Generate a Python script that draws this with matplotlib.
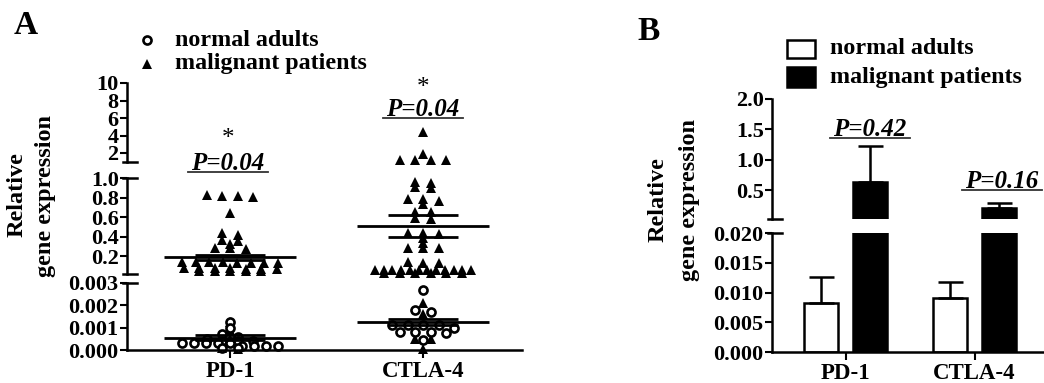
import numpy as np
import matplotlib
matplotlib.use("Agg")
import matplotlib.pyplot as plt
from matplotlib.lines import Line2D
from matplotlib.patches import Rectangle

plt.rcParams['font.family'] = ['Liberation Serif', 'DejaVu Serif']
plt.rcParams['font.weight'] = 'bold'
plt.rcParams['axes.linewidth'] = 1.8

# ---- datos ----
genes = ['PD-1', 'CTLA-4']

# panel A: expresion relativa de cada individuo
pd1_normal = [0.00125, 0.0010, 0.0007, 0.0006, 0.0005, 0.0004, 0.0004, 0.0004,
              0.0003, 0.0003, 0.0003, 0.0003, 0.0003, 0.0002, 0.0002, 0.0002,
              0.0002, 0.0001, 0.0001]
pd1_malignant = [0.83, 0.82, 0.82, 0.81, 0.64, 0.44, 0.42, 0.36, 0.35, 0.32,
                 0.28, 0.28, 0.27,
                 0.14, 0.14, 0.14, 0.14, 0.13, 0.13, 0.13, 0.13,
                 0.08, 0.08, 0.08, 0.08, 0.07, 0.07, 0.07,
                 0.045, 0.045, 0.045, 0.045, 0.045,
                 0.00125, 0.0009, 0.0005, 0.0003, 0.0002, 0.0001, 0.00005]
ctla4_normal = [0.0027, 0.0018, 0.0017, 0.0011, 0.0011, 0.0011, 0.0011, 0.0010,
                0.0008, 0.0008, 0.0008, 0.00075, 0.00045]
ctla4_malignant = [4.4, 1.9, 1.15, 1.15, 1.15, 1.15,
                   0.96, 0.95, 0.91, 0.90, 0.78, 0.78, 0.76, 0.73, 0.65, 0.65,
                   0.59, 0.58, 0.44, 0.44, 0.43, 0.38, 0.33, 0.28, 0.28, 0.28,
                   0.14, 0.13, 0.13,
                   0.06, 0.06, 0.06, 0.06, 0.06, 0.06, 0.06, 0.06, 0.06, 0.06, 0.06, 0.06,
                   0.03, 0.03, 0.03, 0.03, 0.03, 0.03,
                   0.0021, 0.0016, 0.0005, 0.0005, 0.00005]
# media y SEM dibujadas (normal, maligno) por gen
mean_normal = [0.00055, 0.00125]
sem_normal = [0.0001, 0.00015]
mean_malignant = [0.185, 0.51]
sem_malignant = [0.03, 0.11]
p_values_a = ['P=0.04', 'P=0.04']

# panel B: media +/- SEM
bar_normal = [0.0083, 0.0091]
err_normal = [0.0043, 0.0027]
bar_malignant = [0.63, 0.21]
err_malignant = [0.60, 0.075]
p_values_b = ['P=0.42', 'P=0.16']

W, H = 1044, 383
fig = plt.figure(figsize=(W / 100, H / 100), dpi=100)


def fx(px):
    return px / W


def fy(py):
    return 1 - py / H


def add_ax(left, right, top, bottom):
    return fig.add_axes([fx(left), fy(bottom), (right - left) / W, (bottom - top) / H])


def swarm_offsets(vals, px_per_val, px_per_x, row_px=2.5, step_px=15.5, half_px=48):
    vals = np.asarray(vals, float)
    offs = np.zeros(len(vals))
    rows = []
    for i in np.argsort(-vals, kind='stable'):
        if rows and (vals[rows[-1][0]] - vals[i]) * px_per_val <= row_px:
            rows[-1].append(i)
        else:
            rows.append([i])
    for r in rows:
        n = len(r)
        step = step_px if n < 2 else min(step_px, 2 * half_px / (n - 1))
        offs[r] = (np.arange(n) - (n - 1) / 2) * step / px_per_x
    return offs


def style_segment(ax, lo, hi, ticks, fmt, bottom):
    ax.set_ylim(lo, hi)
    ax.set_yticks(ticks)
    ax.set_yticklabels([fmt.format(t) for t in ticks])
    ax.patch.set_alpha(0)
    for s in ['top', 'right']:
        ax.spines[s].set_visible(False)
    if not bottom:
        ax.spines['bottom'].set_visible(False)
        ax.set_xticks([])
    ax.tick_params(axis='y', direction='out', length=5, width=1.5, pad=1, labelsize=16)
    ax.tick_params(axis='x', direction='out', length=6, width=1.5, pad=2, labelsize=16.5)


def break_mark(xpx, ypx):
    fig.add_artist(Line2D([fx(xpx - 4), fx(xpx + 10)], [fy(ypx), fy(ypx)],
                          color='black', lw=1.8))


# ---------------- panel A ----------------
A_left, A_right = 127, 522
A_x0, A_unit = 230, 193
A_xlim = (-(A_x0 - A_left) / A_unit, (A_right - A_x0) / A_unit)
segA = [  # lo, hi, top px, bottom px, ticks, formato
    (0.0, 0.003, 283, 350, [0, 0.001, 0.002, 0.003], '{:.3f}'),
    (0.02, 1.0, 178, 273.55, [0.2, 0.4, 0.6, 0.8, 1.0], '{:.1f}'),
    (1.0, 10.0, 83, 161.75, [2, 4, 6, 8, 10], '{:.0f}'),
]
normals = [pd1_normal, ctla4_normal]
malignants = [pd1_malignant, ctla4_malignant]

for k, (lo, hi, top, bot, ticks, fmt) in enumerate(segA):
    ax = add_ax(A_left, A_right, top, bot)
    ax.set_xlim(*A_xlim)
    style_segment(ax, lo, hi, ticks, fmt, k == 0)
    ppv = (bot - top) / (hi - lo)
    for g in range(2):
        for vals, mk in [(malignants[g], '^'), (normals[g], 'o')]:
            v = np.array([x for x in vals if lo <= x <= hi])
            if len(v) == 0:
                continue
            off = swarm_offsets(v, ppv, A_unit)
            if mk == '^':
                ax.plot(g + off, v, '^', color='black', ms=7.5, mew=0, clip_on=False)
            else:
                ax.plot(g + off, v, 'o', mfc='white', mec='black', ms=5.8, mew=1.9,
                        clip_on=False)
        for m, s in [(mean_normal[g], sem_normal[g]), (mean_malignant[g], sem_malignant[g])]:
            if lo <= m <= hi:
                ax.hlines(m, g - 0.34, g + 0.34, color='black', lw=2)
            for e in (m - s, m + s):
                if lo <= e <= hi:
                    ax.hlines(e, g - 0.18, g + 0.18, color='black', lw=2)
    if k == 0:
        ax.set_xticks([0, 1], genes)
        break_mark(A_left, top)
    else:
        break_mark(A_left, bot)
    if k == 1:
        break_mark(A_left, top)

# P-values panel A
p_pos_a = [(228, 170, 145), (423, 116, 94)]
for (xc, base, star), txt in zip(p_pos_a, p_values_a):
    fig.text(fx(xc), fy(base), txt, ha='center', va='baseline', fontsize=18,
             style='italic', weight='bold')
    fig.add_artist(Line2D([fx(xc - 40), fx(xc + 40)], [fy(base + 2), fy(base + 2)],
                          color='#333333', lw=1.3))
    fig.text(fx(xc), fy(star), '*', ha='center', va='baseline', fontsize=18, weight='normal')

# leyenda A
fig.add_artist(Line2D([fx(147)], [fy(40)], marker='o', mfc='white', mec='black',
                      ms=5.8, mew=1.9))
fig.add_artist(Line2D([fx(147)], [fy(64)], marker='^', color='black', ms=7.5, mew=0))
fig.text(fx(175), fy(40), 'normal adults', va='center', fontsize=17.3)
fig.text(fx(175), fy(64), 'malignant patients', va='center', fontsize=17.3)

fig.text(fx(17), fy(195), 'Relative', rotation=90, ha='center', va='center', fontsize=17.5)
fig.text(fx(46), fy(196), 'gene expression', rotation=90, ha='center', va='center', fontsize=17.5)
fig.text(fx(26), fy(25), 'A', ha='center', va='center', fontsize=24)

# ---------------- panel B ----------------
B_left, B_right = 772, 1044
B_x0, B_unit = 845.5, 129
B_xlim = (-(B_x0 - B_left) / B_unit, (B_right - B_x0) / B_unit)
segB = [
    (0.0, 0.020, 233, 352, [0, 0.005, 0.010, 0.015, 0.020], '{:.3f}'),
    (0.022, 2.0, 99, 219, [0.5, 1.0, 1.5, 2.0], '{:.1f}'),
]
xg = np.arange(len(genes))
bw, dx = 0.27, 0.19
for k, (lo, hi, top, bot, ticks, fmt) in enumerate(segB):
    ax = add_ax(B_left, B_right, top, bot)
    ax.set_xlim(*B_xlim)
    style_segment(ax, lo, hi, ticks, fmt, k == 0)
    for off, means, errs, fc in [(-dx, bar_normal, err_normal, 'white'),
                                 (dx, bar_malignant, err_malignant, 'black')]:
        means = np.array(means)
        errs = np.array(errs)
        show = means + errs > lo  # solo lo que entra en este tramo
        if not show.any():
            continue
        ax.bar(xg[show] + off, means[show], bw, color=fc, edgecolor='black', linewidth=1.8)
        ax.errorbar(xg[show] + off, means[show], yerr=[np.zeros(show.sum()), errs[show]],
                    fmt='none', ecolor='black', elinewidth=1.8, capsize=9, capthick=1.8)
    if k == 0:
        ax.set_xticks(xg, genes)
        break_mark(B_left, top)
    else:
        break_mark(B_left, bot)

p_pos_b = [(870, 136), (1002, 188)]
for (xc, base), txt in zip(p_pos_b, p_values_b):
    fig.text(fx(xc), fy(base), txt, ha='center', va='baseline', fontsize=18,
             style='italic', weight='bold')
    fig.add_artist(Line2D([fx(xc - 40), fx(xc + 40)], [fy(base + 2), fy(base + 2)],
                          color='#333333', lw=1.3))

# leyenda B
fig.add_artist(Rectangle((fx(787), fy(58)), 28 / W, 18 / H, transform=fig.transFigure,
                         facecolor='white', edgecolor='black', lw=1.8))
fig.add_artist(Rectangle((fx(787), fy(87)), 28 / W, 20 / H, transform=fig.transFigure,
                         facecolor='black', edgecolor='black', lw=1.8))
fig.text(fx(830), fy(48), 'normal adults', va='center', fontsize=17.3)
fig.text(fx(830), fy(77), 'malignant patients', va='center', fontsize=17.3)

fig.text(fx(658), fy(200), 'Relative', rotation=90, ha='center', va='center', fontsize=17.5)
fig.text(fx(690), fy(200), 'gene expression', rotation=90, ha='center', va='center', fontsize=17.5)
fig.text(fx(649), fy(31), 'B', ha='center', va='center', fontsize=24)

fig.savefig('out.png', dpi=100)
